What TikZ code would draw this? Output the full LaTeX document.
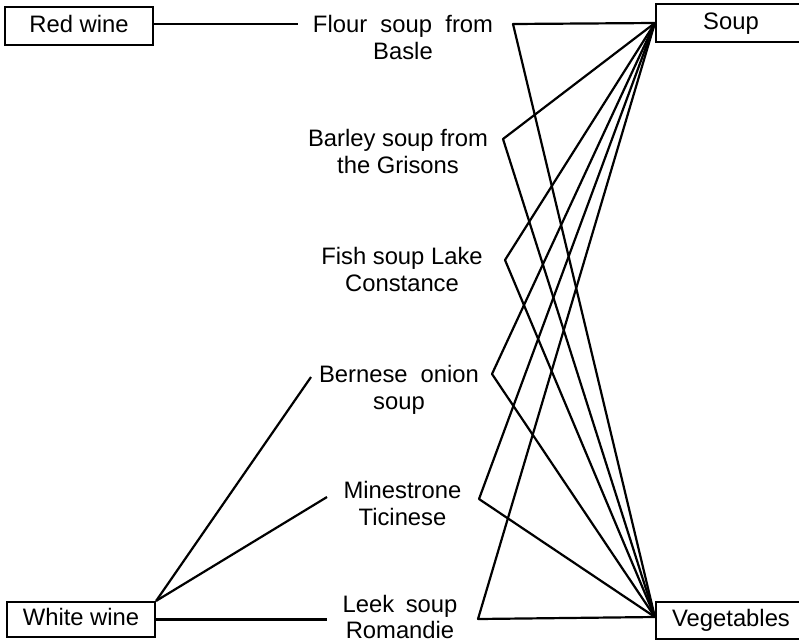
\documentclass[tikz,border=0pt]{standalone}
\usepackage{fontspec}
\setmainfont{Liberation Sans}
\begin{document}
\begin{tikzpicture}[x=1pt,y=-1pt,
  lbl/.style={font=\fontsize{23.8pt}{26.5pt}\selectfont},
  box/.style={lbl, draw, line width=2.2pt, text height=17pt, text depth=5pt, inner sep=0pt},
  soupname/.style={lbl, align=center, anchor=north, inner sep=0pt},
  link/.style={line width=2.2pt, line join=round}]
\clip (0,0) rectangle (799,643);

% wines and categories
\node[box, minimum width=148pt, minimum height=38pt] (redwine)   at (79,26)    {Red wine};
\node[box, minimum width=148pt, minimum height=35pt] (whitewine) at (81,619.5) {White wine};
\node[box, minimum width=150pt, minimum height=38pt] (soup)      at (731,23)   {Soup};
\node[box, minimum width=150pt, minimum height=37pt] (veg)       at (731,620.5){Vegetables};

% soups
\node[soupname] (flour)    at (403,14.1)    {\strut Flour\hspace{13.3pt}soup\hspace{13.3pt}from\\Basle};
\node[soupname] (barley)   at (398,128.1)   {\strut Barley soup from\\the Grisons};
\node[soupname] (fish)     at (402,246.1)   {\strut Fish soup Lake\\Constance};
\node[soupname] (bernese)  at (399,364.1)   {\strut Bernese\hspace{13.1pt}onion\\soup};
\node[soupname] (mines)    at (402.5,480.1) {\strut Minestrone\\Ticinese};
\node[soupname] (leek)     at (400,593.5)   {\strut Leek\hspace{11.6pt}soup\\Romandie};

% connector ends beside the soup names
\coordinate (flourL)   at (298,24);
\coordinate (berneseL) at (311,377);
\coordinate (minesL)   at (327,497);
\coordinate (leekL)    at (327,619.5);
\coordinate (flourR)   at (513,24);
\coordinate (barleyR)  at (503,139);
\coordinate (fishR)    at (505,260);
\coordinate (berneseR) at (492,374);
\coordinate (minesR)   at (479,499);
\coordinate (leekR)    at (478,619);
\coordinate (soupP) at (soup.west);
\coordinate (vegP)  at ([yshift=3.5pt]veg.west);

% wine links
\draw[link] (redwine.east |- flourL) -- (flourL);
\draw[link] (whitewine.north east) -- (berneseL);
\draw[link] (whitewine.north east) -- (minesL);
\draw[link] (whitewine.east) -- (leekL);

% category links
\foreach \s in {flourR,barleyR,fishR,berneseR,minesR,leekR}
  \draw[link] (soupP) -- (\s) -- (vegP);
\end{tikzpicture}
\end{document}
